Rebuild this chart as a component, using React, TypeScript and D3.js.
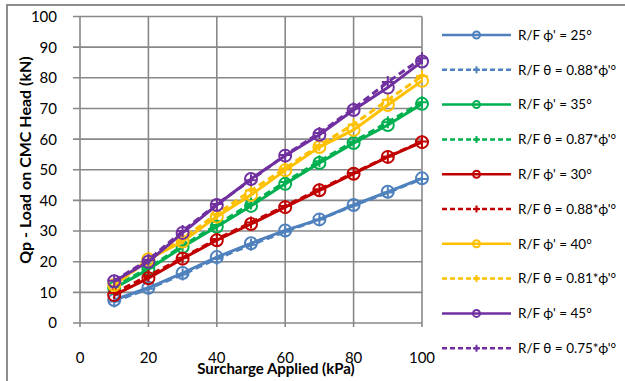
import React from "react";
import * as d3 from "d3";

const xValues = [10, 20, 30, 40, 50, 60, 70, 80, 90, 100];
const phi25 = [7.5, 11.5, 16.3, 21.5, 26, 30.2, 33.8, 38.5, 42.8, 47.2];
const theta088a = [7.0, 11.2, 15.8, 21.0, 25.5, 29.8, 33.8, 38.3, 42.6, 47.0];
const phi35 = [11.4, 17.5, 24.8, 31.4, 38.2, 45.4, 52.2, 58.7, 64.6, 71.5];
const theta087 = [11.8, 18.0, 25.2, 32.0, 39.0, 46.0, 52.8, 59.2, 65.5, 72.0];
const phi30 = [9.1, 14.6, 21.0, 27.0, 32.3, 37.8, 43.3, 48.7, 54.2, 59.0];
const theta088b = [9.8, 15.4, 21.3, 27.4, 32.8, 38.2, 43.6, 48.9, 54.3, 59.2];
const phi40 = [12.4, 20.8, 26.6, 34.7, 41.8, 49.8, 57.4, 63.0, 71.1, 79.0];
const theta081 = [12.2, 20.5, 27.6, 35.6, 43.2, 50.5, 58.0, 64.8, 72.8, 80.5];
const phi45 = [13.6, 20.0, 29.4, 38.5, 47.0, 54.6, 61.4, 69.5, 76.8, 85.3];
const theta075 = [13.8, 20.6, 30.0, 38.8, 46.6, 54.8, 62.0, 70.0, 78.6, 86.4];

const seriesNames = [
  "R/F ϕ' = 25°",
  "R/F θ = 0.88*ϕ'°",
  "R/F ϕ' = 35°",
  "R/F θ = 0.87*ϕ'°",
  "R/F ϕ' = 30°",
  "R/F θ = 0.88*ϕ'°",
  "R/F ϕ' = 40°",
  "R/F θ = 0.81*ϕ'°",
  "R/F ϕ' = 45°",
  "R/F θ = 0.75*ϕ'°",
];
const seriesValues = [phi25, theta088a, phi35, theta087, phi30, theta088b, phi40, theta081, phi45, theta075];
const seriesColors = ["#4F81BD", "#4F81BD", "#00B050", "#00B050", "#C00000", "#C00000", "#FFC000", "#FFC000", "#7030A0", "#7030A0"];
const seriesDashed = [false, true, false, true, false, true, false, true, false, true];

const xTicks = [0, 20, 40, 60, 80, 100];
const yTicks = [0, 10, 20, 30, 40, 50, 60, 70, 80, 90, 100];

const FONT = "Lato, 'Noto Sans', sans-serif";

export default function App() {
  const W = 625;
  const H = 381;
  const x = d3.scaleLinear().domain([0, 100]).range([80, 422]);
  const y = d3.scaleLinear().domain([0, 100]).range([323, 16.5]);
  const line = d3
    .line<number>()
    .x((_, i) => x(xValues[i]))
    .y((d) => y(d));

  const legendX1 = 442;
  const legendX2 = 511;
  const legendY0 = 35;
  const legendStep = 34.8;

  const marker = (dashed: boolean, color: string, cx: number, cy: number, r: number, key: string) =>
    dashed ? (
      <path
        key={key}
        d={`M${cx - r},${cy}H${cx + r}M${cx},${cy - r}V${cy + r}`}
        stroke={color}
        strokeWidth={2}
        fill="none"
      />
    ) : (
      <circle key={key} cx={cx} cy={cy} r={r} stroke={color} strokeWidth={2} fill="none" />
    );

  return (
    <svg
      width={W}
      height={H}
      style={{ position: "fixed", left: 0, top: 0, background: "#fff" }}
      fontFamily={FONT}
    >
      <rect x={0} y={0} width={W} height={H} fill="#fff" />
      {/* outer chart border */}
      <path d={`M7,${H + 5}V5H${W + 5}`} stroke="#8c8c8c" strokeWidth={2} fill="none" />

      {/* gridlines */}
      {yTicks.map((t) => (
        <line key={"hy" + t} x1={73} x2={x(100)} y1={y(t)} y2={y(t)} stroke="#888" strokeWidth={1.6} />
      ))}
      {xTicks.map((t) => (
        <line key={"vx" + t} x1={x(t)} x2={x(t)} y1={y(100)} y2={y(0) + 4} stroke="#888" strokeWidth={1.6} />
      ))}

      {/* y tick labels */}
      {yTicks.map((t) => (
        <text key={"yl" + t} x={57} y={y(t)} dy="0.36em" textAnchor="end" fontSize={15} fill="#000">
          {t}
        </text>
      ))}
      {/* x tick labels */}
      {xTicks.map((t) => (
        <text key={"xl" + t} x={x(t)} y={363} textAnchor="middle" fontSize={15} fill="#000">
          {t}
        </text>
      ))}

      {/* axis titles */}
      <text x={276} y={374} textAnchor="middle" fontSize={15} fontWeight="bold" fill="#000">
        Surcharge Applied (kPa)
      </text>
      <text
        transform={`translate(31,160) rotate(-90)`}
        textAnchor="middle"
        fontSize={16}
        fontWeight="bold"
        fill="#000"
      >
        Qp - Load on CMC Head (kN)
      </text>

      {/* series */}
      {seriesValues.map((vals, si) => (
        <g key={"s" + si}>
          <path
            d={line(vals) || ""}
            stroke={seriesColors[si]}
            strokeWidth={3}
            fill="none"
            strokeDasharray={seriesDashed[si] ? "7,4" : undefined}
          />
          {vals.map((v, i) =>
            marker(seriesDashed[si], seriesColors[si], x(xValues[i]), y(v), seriesDashed[si] ? 6 : 6, `m${si}-${i}`)
          )}
        </g>
      ))}

      {/* legend */}
      {seriesNames.map((name, si) => {
        const ly = legendY0 + si * legendStep;
        const cx = (legendX1 + legendX2) / 2;
        return (
          <g key={"lg" + si}>
            <line
              x1={legendX1}
              x2={legendX2}
              y1={ly}
              y2={ly}
              stroke={seriesColors[si]}
              strokeWidth={2.5}
              strokeDasharray={seriesDashed[si] ? "5,3" : undefined}
            />
            {marker(seriesDashed[si], seriesColors[si], cx, ly, 3.5, "lm" + si)}
            <text x={518} y={ly} dy="0.36em" fontSize={13.5} fill="#000">
              {name}
            </text>
          </g>
        );
      })}
    </svg>
  );
}
